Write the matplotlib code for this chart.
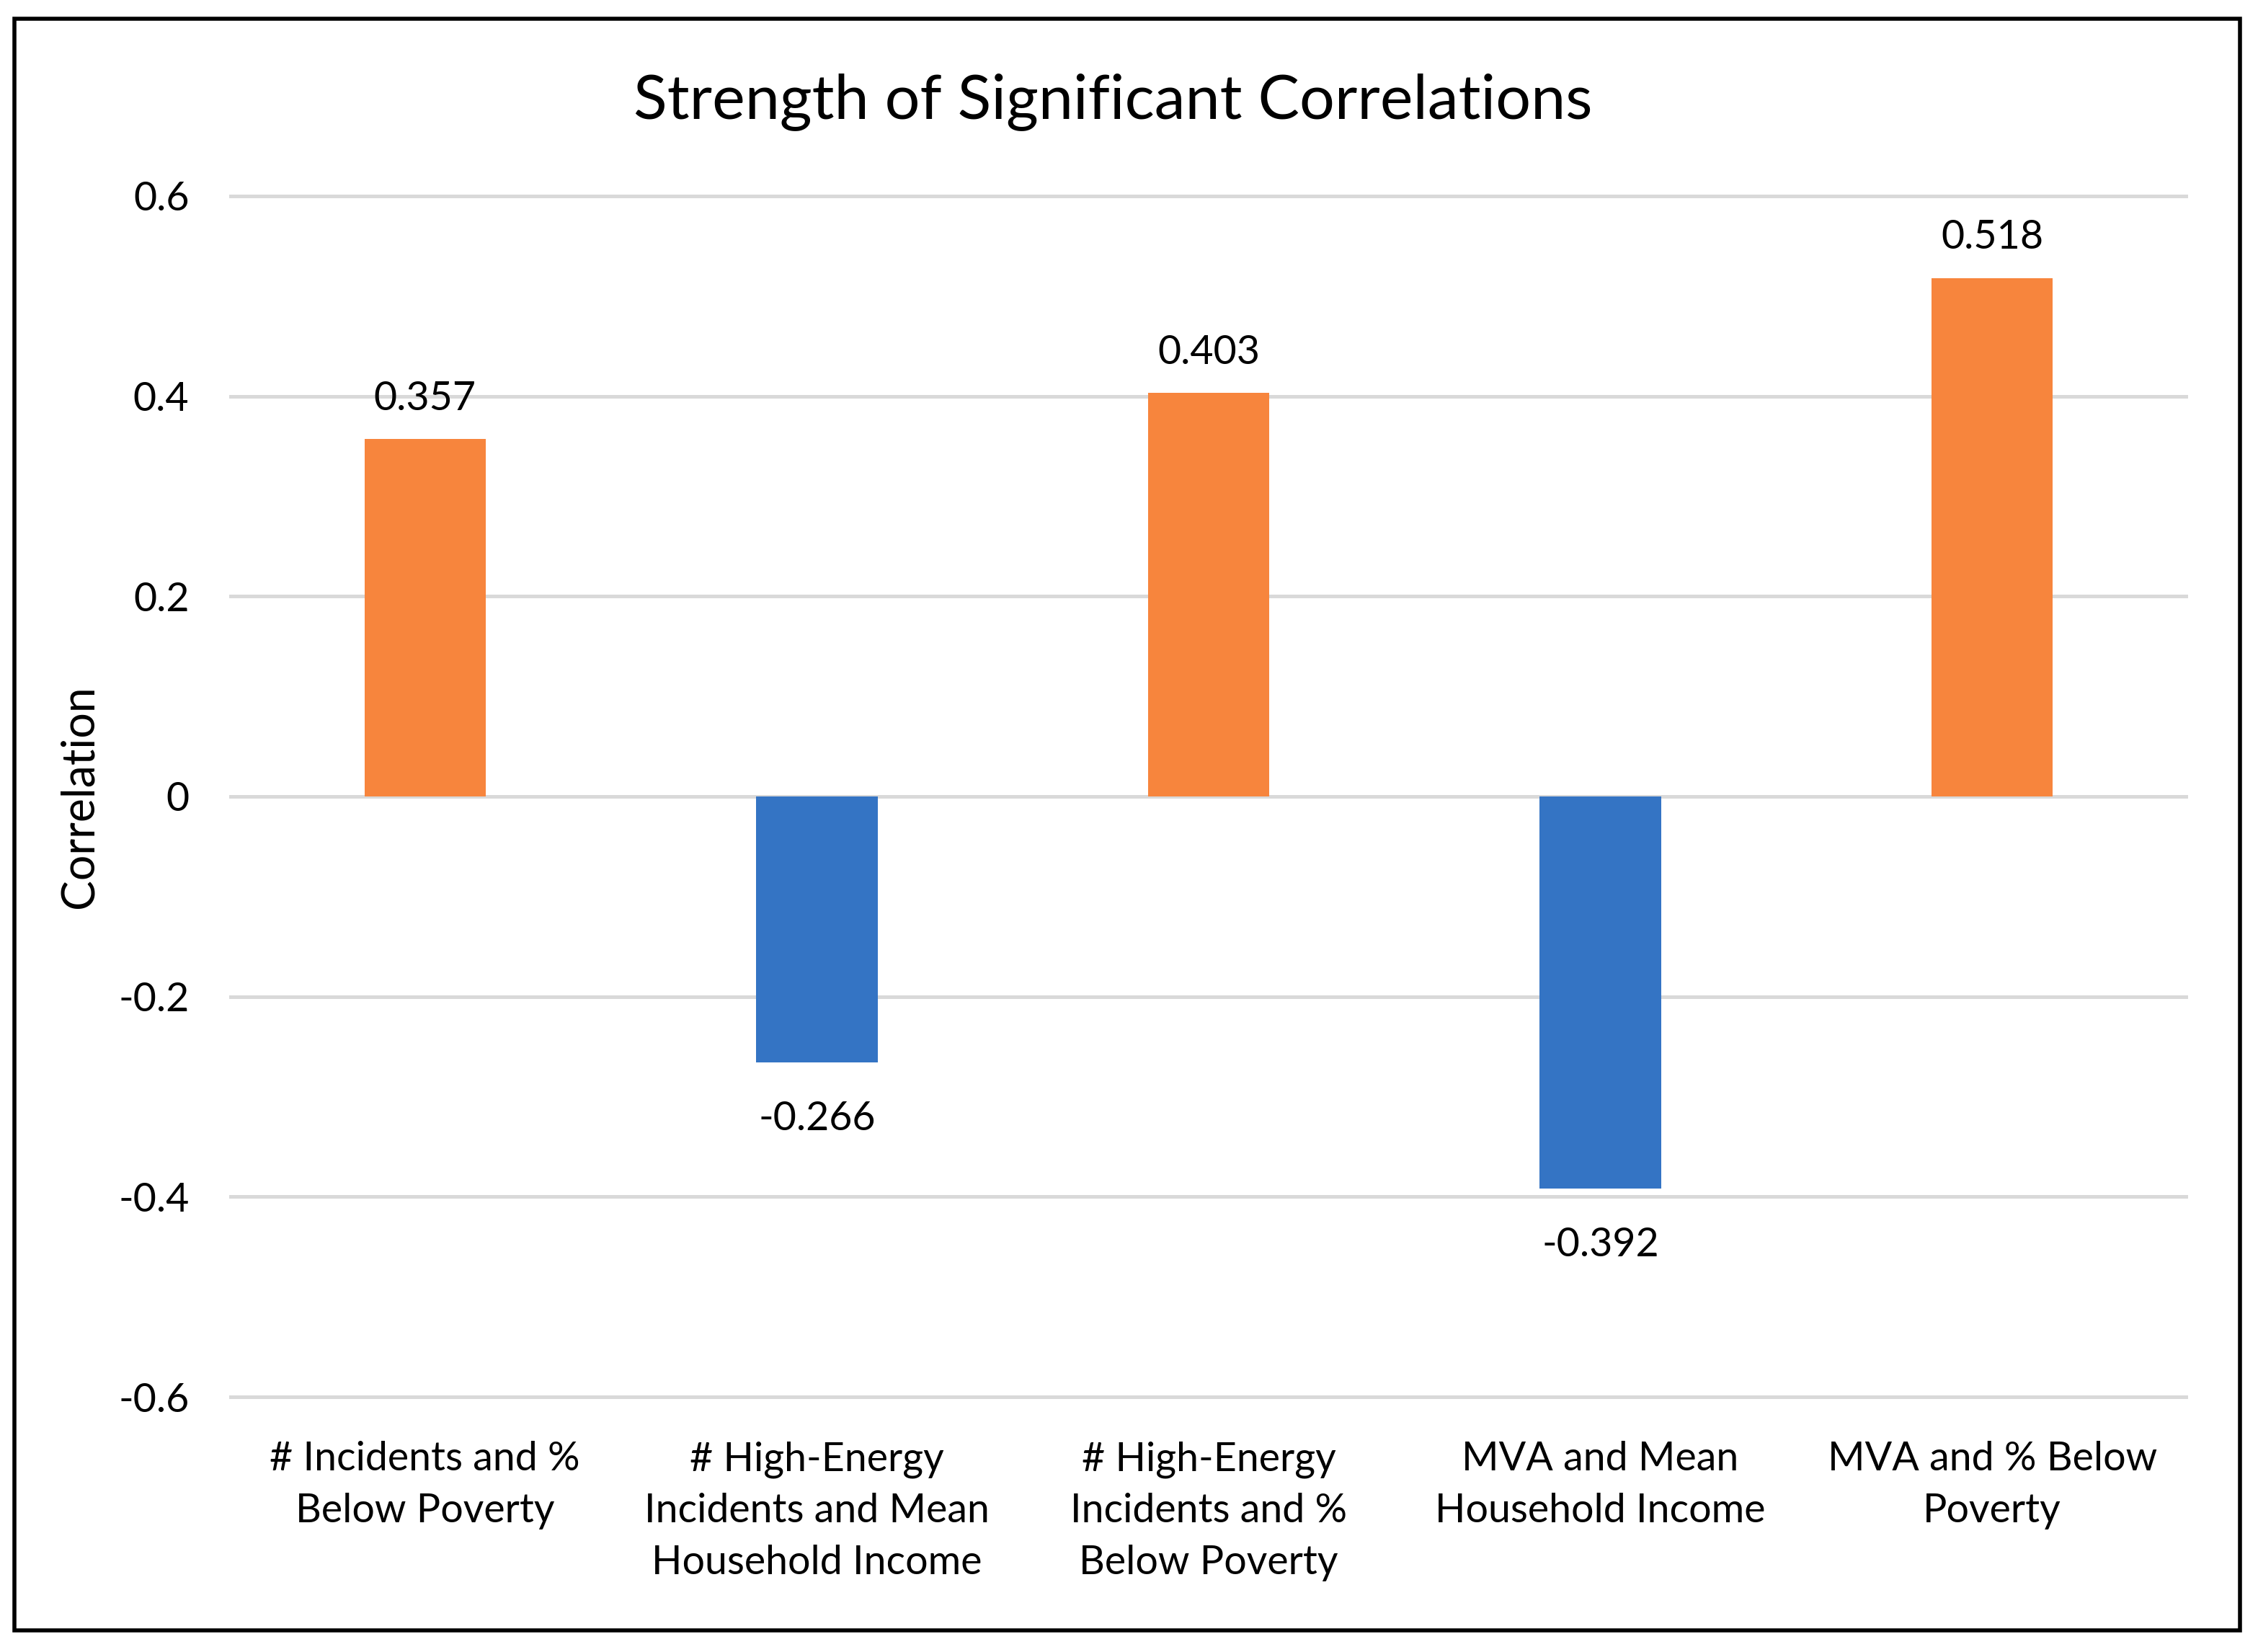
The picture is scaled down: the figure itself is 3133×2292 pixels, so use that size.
import matplotlib
matplotlib.use("Agg")
import matplotlib.pyplot as plt
from matplotlib.patches import Rectangle

plt.rcParams['font.family'] = ['Lato', 'DejaVu Sans']

categories = ["# Incidents and %\nBelow Poverty",
              "# High-Energy\nIncidents and Mean\nHousehold Income",
              "# High-Energy\nIncidents and %\nBelow Poverty",
              "MVA and Mean\nHousehold Income",
              "MVA and % Below\nPoverty"]
values = [0.357, -0.266, 0.403, -0.392, 0.518]
value_labels = ["0.357", "-0.266", "0.403", "-0.392", "0.518"]
yticks = [-0.6, -0.4, -0.2, 0, 0.2, 0.4, 0.6]
ytick_labels = ["-0.6", "-0.4", "-0.2", "0", "0.2", "0.4", "0.6"]

ORANGE = "#F7853D"
BLUE = "#3474C4"
W, H = 3133, 2292
DPI = 200
fig = plt.figure(figsize=(W / DPI, H / DPI), dpi=DPI)
fig.patch.set_facecolor("white")

# axes position (pixels)
x0, x1 = 318, 3036
yb, yt = 1952, 258
ax = fig.add_axes([x0 / W, 1 - yb / H, (x1 - x0) / W, (yb - yt) / H])

xs = list(range(len(values)))
colors = [ORANGE if v > 0 else BLUE for v in values]
ax.bar(xs, values, width=0.31, color=colors, zorder=2)

ax.set_xlim(-0.5, len(values) - 0.5)
ax.set_ylim(-0.61, 0.61)
ax.set_yticks(yticks)
ax.set_yticklabels(ytick_labels, fontsize=20)
ax.set_xticks(xs)
ax.set_xticklabels(categories, fontsize=20, linespacing=1.5)
ax.tick_params(axis='y', length=0, pad=20)
ax.tick_params(axis='x', length=0, pad=17)
for s in ax.spines.values():
    s.set_visible(False)
ax.yaxis.grid(True, color="#D9D9D9", linewidth=1.8, zorder=1)
ax.set_axisbelow(True)

for x, v, lab in zip(xs, values, value_labels):
    if v >= 0:
        ax.annotate(lab, (x, v), xytext=(0, 11), textcoords="offset points",
                    ha="center", va="bottom", fontsize=20)
    else:
        ax.annotate(lab, (x, v), xytext=(0, -19), textcoords="offset points",
                    ha="center", va="top", fontsize=20)

ax.set_ylabel("Correlation", fontsize=22.5)
ax.yaxis.set_label_coords((140 - x0) / (x1 - x0), 0.5)

fig.text(1544 / W, 1 - 164 / H, "Strength of Significant Correlations",
         ha="center", va="baseline", fontsize=31)

fig.add_artist(Rectangle((20 / W, 1 - 2262 / H), (3108 - 20) / W, (2262 - 26) / H,
                         transform=fig.transFigure, fill=False,
                         edgecolor="black", linewidth=2.0))

fig.savefig("out.png", dpi=DPI, facecolor="white")
